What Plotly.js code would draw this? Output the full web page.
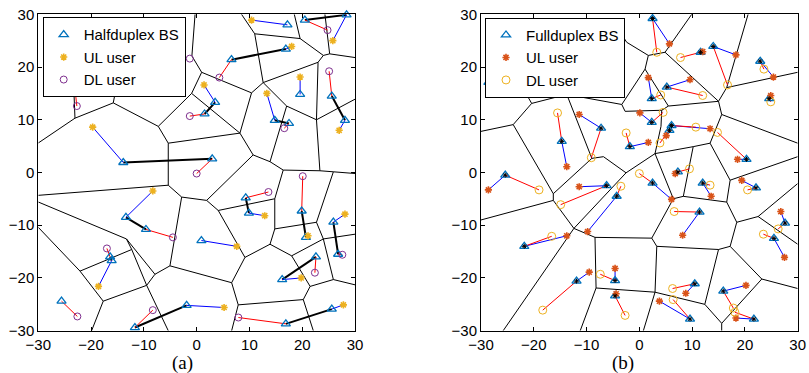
<!DOCTYPE html>
<html><head><meta charset="utf-8">
<script src="https://cdn.plot.ly/plotly-3.0.1.min.js"></script>
<style>body{margin:0;background:#fff}#c{width:809px;height:373px}</style>
</head><body><div id="c"></div>
<script>
// ---------- Panel (a): half duplex ----------
const bsAX = [-13.9, 2.95, -23.5, 3.5, 1.5, 17.2, 20.5, 28.4, 16.9, 6.6, 19.6, 25.6, 28.1, 14.8, 17.5, 9.3, 9.9, 19.9, 20.7, 25.9, 26.8, 0.9, 22.6, 16.2, 25.6, 16.9, -1.9, -11.7, -13.4, -9.6, -16.4, -16.1, -25.6];
const bsAY = [1.9, 2.6, 20.0, 13.3, 11.1, 28.0, 28.9, 29.9, 23.4, 21.4, 14.8, 14.5, 9.9, 9.9, 9.3, -4.8, -7.7, -7.3, -12.3, -9.4, -15.5, -12.9, -16.0, -20.3, -25.9, -28.7, -25.2, -29.4, -8.5, -10.8, -16.0, -16.7, -24.4];
const ulAX = [-19.7, 1.4, 10.4, 25.8, 18.0, 19.6, 27.0, 13.3, 12.9, 21.1, 28.1, 7.6, 19.8, 27.8, 5.2, -8.3, -18.6];
const ulAY = [8.6, 16.6, 28.9, 25.0, 23.9, 18.1, 8.0, 15.0, -8.2, -12.0, -7.9, -14.0, -20.0, -25.1, -25.6, -3.5, -21.6];
const ulABs = [0, 3, 5, 7, 8, 10, 12, 13, 16, 18, 19, 21, 23, 24, 26, 28, 31];
const dlAX = [0.0, -22.7, -1.3, 24.8, 4.3, 25.1, 16.6, 13.6, 20.1, 27.6, 22.4, 7.9, -8.3, -4.5, -17.0, -22.6, -1.3];
const dlAY = [-0.2, 12.6, 10.7, 27.0, 18.0, 19.2, 8.4, -3.7, -0.7, -15.6, -19.0, -27.5, -26.1, -12.3, -14.4, -27.3, 21.6];
const dlABs = [1, 2, 4, 6, 9, 11, 14, 15, 17, 20, 22, 25, 27, 29, 30, 32, -1];
const bbAFrom = [0, 3, 6, 8, 11, 13, 15, 17, 19, 22, 24, 26, 28, 30];
const bbATo   = [1, 4, 7, 9, 12, 14, 16, 18, 20, 23, 25, 27, 29, 31];
const vorAX = [-30, -23.05, -23.6, -15.8, -14.3, -7.27, -5.38, -0.95, 0.95, -0.3, 10.4, 8.2, -5.38, 8.5, 11.0, 19.6, 18.5, 24.0, 25.2, 24.3, 30, 12.6, 23.0, 22.7, 10.7, 13.9, 17.05, 30, 23.35, 16.4, 25.9, 30, 1.89, -2.84, -30, 4.09, 14.8, 14.8, 13.9, 22.7, 24.0, 30, 25.9, 30, 18.0, 21.5, 20.2, 7.88, 22.1, 9.15, 6.63, 6.63, -5.06, -7.9, -13.3, -30, -12.3, -22.1, -9.47, -17.7, -30, -19.9, -5.38, -0.9];
const vorAY = [5.6, 10.3, 24, 13.2, 21, 8.75, 5.56, 15.0, 19.0, 30, 15.1, 7.47, -2.41, 30, 26.3, 25.4, 30, 22.2, 22.5, 30, 21.8, 17.05, 20.9, 10.0, 3.33, 2.05, 12.6, 13.9, 0.33, 0.46, 0.13, -0.19, -5.29, -4.66, -4.33, -7.2, -4.98, -10.7, -13.6, -9.44, -12.6, -11.7, -20.3, -21.3, -15.8, -21.6, -24.1, -25.1, -30, -16.1, -20.9, -30, -17.7, -19.3, -12.6, -5.6, -14.6, -18.7, -21.4, -24.4, -10.4, -30, -30, 22.1];
const vorAFrom = [0,1,1,3,3,5,5,7,8,63,8,7,6,6,13,14,16,15,17,18,18,14,17,22,22,21,10,11,24,25,21,26,23,23,29,28,30,25,29,24,12,12,33,32,35,35,36,37,37,30,39,40,40,42,40,44,45,45,46,46,38,38,49,50,47,33,52,52,53,53,54,54,56,56,58,59,57,59,58];
const vorATo   = [1,2,3,4,5,7,6,8,63,9,10,11,11,12,14,15,15,17,18,19,20,21,22,23,21,10,11,24,25,26,26,23,27,28,28,30,31,29,36,32,34,33,32,35,36,49,37,38,39,39,40,41,42,43,44,45,42,46,47,48,49,44,50,47,51,52,53,50,58,54,55,56,57,58,59,57,60,61,62];

// ---------- Panel (b): full duplex ----------
const bsBX = [-28.6, -14.7, -7.25, -1.8, -25.4, 2.5, 11.6, 14.0, 22.9, 24.6, 2.35, 5.2, 2.35, 6.1, 5.7, 20.3, 7.3, 2.5, 12.0, 22.1, 11.4, 27.6, 25.5, 10.5, 15.9, 9.6, 21.7, -6.2, -4.3, -21.8, -11.9, -4.6, -4.6];
const bsBY = [17.1, 5.9, 8.4, 4.9, -0.5, 29.2, 22.8, 23.9, 21.1, 14.0, 14.0, 16.2, 9.5, 8.9, 8.0, 2.5, 0.1, -2.0, -2.0, -2.9, -7.5, -9.6, -12.5, -21.1, -22.5, -27.8, -27.8, -2.5, -4.5, -14.0, -20.6, -20.5, -23.4];
const ulBX = [-13.75, -11.4, 1.7, -28.6, 5.7, 12.0, 18.3, 25.4, 24.9, 1.7, 9.6, 0.1, 13.4, 5.1, 18.6, 6.8, 6.1, 13.6, 19.4, 8.2, 26.8, 27.5, 8.8, 20.2, 3.8, 18.3, -11.4, -9.8, -13.75, -9.5, -4.6, -4.4];
const ulBY = [1.1, 11.0, 5.7, -3.3, 24.4, 22.9, 22.3, 18.1, 14.6, 18.0, 17.6, 11.3, 8.3, 7.0, 2.5, -0.2, -5.1, -4.5, -1.5, -11.9, -7.4, -16.1, -22.9, -21.4, -24.4, -27.6, -2.7, -11.2, -12.0, -18.9, -18.2, -23.0];
const dlBX = [-15.5, -9.1, -2.5, -19.0, 3.3, 7.8, 16.7, 23.6, 24.9, 4.05, 12.0, 4.5, 10.7, 3.9, 14.8, 9.5, 0.0, 13.4, 20.5, 6.6, 26.3, 23.5, 6.3, 17.8, 6.4, 18.1, -14.9, -3.5, -16.6, -18.3, -7.4, -2.7];
const dlBY = [11.3, 2.8, 7.5, -3.3, 22.8, 21.8, 16.6, 19.6, 13.4, 14.7, 14.6, 11.4, 8.6, 5.6, 7.6, 0.7, -0.2, -2.4, -3.3, -7.4, -10.7, -11.7, -22.0, -25.7, -24.1, -26.5, -6.1, -2.6, -12.1, -26.1, -19.3, -27.1];
const userBBs = [1,2,3,4,5,6,7,8,9,10,11,12,13,14,15,16,17,18,19,20,21,22,23,24,25,26,27,28,29,30,31,32];
const vorBX = [-25.0, -20.4, -13.75, -10.0, -3.33, -23.9, -30, -9.0, -6.8, -2.7, 4.24, 5.5, 1.08, 1.7, -2.4, 4.87, 9.92, 15.0, 20.6, 16.55, 30, 15.6, 30, 13.4, 2.97, 4.1, 17.2, 30, 10.2, 8.33, 6.44, 16.55, 18.45, 22.5, 30, 30, 17.2, 15.0, 3.3, 2.35, 2.97, 12.4, 15.6, 15.6, 23.2, 30, 0.76, -2.52, -12.4, -8.4, -8.2, -11.2, -16.3, -16.3, -30, -25.8, -4.5];
const vorBY = [21.2, 13.1, 14.8, 21.2, 12.9, 9.08, 7.8, 2.68, 3.0, 11.6, 11.8, 12.6, 19.6, 22.2, 24.7, 22.8, 30, 13.5, 30, 16.1, 19.0, 11.0, 5.56, 5.56, 3.58, 8.75, -1.46, 3.0, 4.9, -4.52, -4.98, -5.61, -9.44, -8.35, -2.1, -13.6, -14.0, -14.6, -14.0, -12.45, -22.7, -25.0, -28.6, -30, -20.2, -22.0, -30, -0.06, -10.6, -12.3, -21.9, -30, -4.02, -5.29, -9.0, -30, 28];
const vorBFrom = [0,1,2,2,1,5,5,2,7,8,52,52,53,53,48,48,48,49,49,50,50,4,9,10,4,12,13,14,13,15,15,12,11,18,19,19,17,21,21,23,28,24,25,24,23,26,26,28,29,29,24,30,31,32,33,33,32,36,37,38,38,40,37,41,42,42,44,44,40];
const vorBTo   = [1,2,3,4,5,6,52,7,8,47,7,53,54,48,55,47,49,39,50,51,40,9,10,11,12,13,14,56,15,16,17,11,17,19,20,17,21,22,23,28,24,25,10,47,26,27,31,29,30,31,30,39,32,33,34,35,36,37,38,39,40,41,41,42,43,44,45,36,46];

// ---------- helpers ----------
function segs(fx, fy, tx, ty) {
  const x = [], y = [];
  for (let i = 0; i < fx.length; i++) { x.push(fx[i], tx[i], null); y.push(fy[i], ty[i], null); }
  return {x, y};
}
function edgeSegs(vx, vy, from, to) {
  return segs(from.map(i => vx[i]), from.map(i => vy[i]), to.map(i => vx[i]), to.map(i => vy[i]));
}
function userSegs(ux, uy, ubs, bx, by) {
  const fx = [], fy = [], tx = [], ty = [];
  ux.forEach((v, i) => { if (ubs[i] >= 0) { fx.push(v); fy.push(uy[i]); tx.push(bx[ubs[i]]); ty.push(by[ubs[i]]); } });
  return segs(fx, fy, tx, ty);
}
function lineTrace(s, color, width, xa, ya) {
  return {x: s.x, y: s.y, xaxis: xa, yaxis: ya, mode: 'lines', type: 'scatter',
    line: {color: color, width: width}, showlegend: false, hoverinfo: 'skip'};
}
function markTrace(x, y, name, symbol, color, size, lw, xa, ya, leg, show) {
  return {x: x, y: y, xaxis: xa, yaxis: ya, mode: 'markers', type: 'scatter', name: name,
    legend: leg, showlegend: show, cliponaxis: false,
    marker: {symbol: symbol, size: size, color: color, line: {color: color, width: lw}}};
}

const BLUE_M = '#0072BD', ORANGE = '#EDB120', PURPLE = '#7E2F8E', RED_M = '#D95319';
const traces = [];
// panel (a)
let s = edgeSegs(vorAX, vorAY, vorAFrom, vorATo);
traces.push(lineTrace(s, '#000', 1, 'x', 'y'));
s = segs(bbAFrom.map(i => bsAX[i]), bbAFrom.map(i => bsAY[i]), bbATo.map(i => bsAX[i]), bbATo.map(i => bsAY[i]));
traces.push(lineTrace(s, '#000', 2, 'x', 'y'));
traces.push(lineTrace(userSegs(ulAX, ulAY, ulABs, bsAX, bsAY), '#0000FF', 1, 'x', 'y'));
traces.push(lineTrace(userSegs(dlAX, dlAY, dlABs, bsAX, bsAY), '#FF0000', 1, 'x', 'y'));
traces.push(markTrace(bsAX, bsAY, 'Halfduplex BS', 'triangle-up-open', BLUE_M, 8, 1.3, 'x', 'y', 'legend', true));
traces.push(markTrace(ulAX, ulAY, 'UL user', 'asterisk-open', ORANGE, 6, 1.6, 'x', 'y', 'legend', true));
traces.push(markTrace(dlAX, dlAY, 'DL user', 'circle-open', PURPLE, 7, 1, 'x', 'y', 'legend', true));
// panel (b)
s = edgeSegs(vorBX, vorBY, vorBFrom, vorBTo);
traces.push(lineTrace(s, '#000', 1, 'x2', 'y2'));
traces.push(lineTrace(userSegs(ulBX, ulBY, userBBs, bsBX, bsBY), '#0000FF', 1, 'x2', 'y2'));
traces.push(lineTrace(userSegs(dlBX, dlBY, userBBs, bsBX, bsBY), '#FF0000', 1, 'x2', 'y2'));
traces.push(markTrace(bsBX, bsBY, 'Fullduplex BS', 'triangle-up-open', BLUE_M, 8, 1.3, 'x2', 'y2', 'legend2', true));
traces.push(markTrace(ulBX, ulBY, 'UL user', 'asterisk-open', RED_M, 6, 1.6, 'x2', 'y2', 'legend2', true));
traces.push(markTrace(dlBX, dlBY, 'DL user', 'circle-open', ORANGE, 8, 1, 'x2', 'y2', 'legend2', true));
traces.push(markTrace(bsBX, bsBY, 'BS center', 'asterisk-open', '#000', 4, 1, 'x2', 'y2', 'legend2', false));

const W = 809, H = 373;
const yDom = [1 - 330.7 / H, 1 - 14.3 / H];
function ax(dom, anchor) {
  return {domain: dom, anchor: anchor, range: [-30, 30], dtick: 10, tick0: 0, showgrid: false, zeroline: false,
    showline: true, mirror: 'ticks', linecolor: '#000', linewidth: 1, ticks: 'inside', ticklen: 4,
    tickcolor: '#000', tickfont: {family: 'Liberation Sans, Arial, sans-serif', size: 15, color: '#000'},
    fixedrange: true};
}
const legBase = {bgcolor: '#fff', bordercolor: '#000', borderwidth: 1, xanchor: 'left', yanchor: 'top',
  font: {family: 'Liberation Sans, Arial, sans-serif', size: 15, color: '#000'}, itemwidth: 30, tracegroupgap: 0};
const layout = {
  width: W, height: H, margin: {l: 0, r: 0, t: 0, b: 0}, paper_bgcolor: '#fff', plot_bgcolor: '#fff',
  showlegend: true,
  xaxis: ax([38.3 / W, 355 / W], 'y'),
  yaxis: ax(yDom, 'x'),
  xaxis2: ax([481 / W, 797.7 / W], 'y2'),
  yaxis2: ax(yDom, 'x2'),
  legend: Object.assign({}, legBase, {x: 42.7 / W, y: 1 - 17.3 / H}),
  legend2: Object.assign({}, legBase, {x: 485 / W, y: 1 - 17.7 / H}),
  annotations: [
    {text: '(a)', xref: 'paper', yref: 'paper', x: 182 / W, y: 1 - 363 / H, xanchor: 'center', yanchor: 'middle', showarrow: false,
     font: {family: 'Liberation Serif, DejaVu Serif, serif', size: 19, color: '#000'}},
    {text: '(b)', xref: 'paper', yref: 'paper', x: 623 / W, y: 1 - 363 / H, xanchor: 'center', yanchor: 'middle', showarrow: false,
     font: {family: 'Liberation Serif, DejaVu Serif, serif', size: 19, color: '#000'}}
  ]
};
Plotly.newPlot('c', traces, layout, {staticPlot: true, displayModeBar: false});
</script>
</body></html>
